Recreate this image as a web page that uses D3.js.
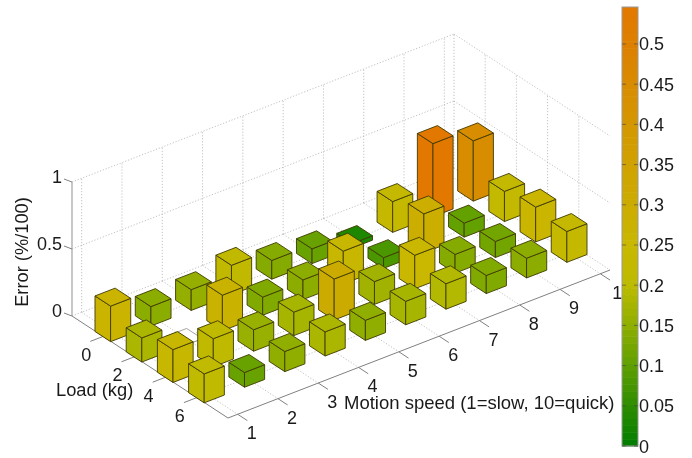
<!DOCTYPE html>
<html><head><meta charset="utf-8">
<script src="https://cdn.jsdelivr.net/npm/d3@7/dist/d3.min.js"></script>
<style>html,body{margin:0;padding:0;background:#fff}svg{display:block;filter:blur(0.5px)}text{font-family:"Liberation Sans",Arial,sans-serif;fill:#1a1a1a}</style>
</head><body><svg id="c" width="692" height="458"></svg>
<script>
const speeds=[1,2,3,4,5,6,7,8,9,10];
const loads=[0,2,4,6];
const errLoad0=[.265,.145,.155,.22,.14,.11,.033,.23,.546,.45];
const errLoad2=[.18,0,.266,.135,.147,.245,.08,.29,.105,.225];
const errLoad4=[.245,.21,.16,.175,.306,.17,.25,.14,.12,.26];
const errLoad6=[.216,.11,.15,.18,.15,.175,.19,.135,.147,.23];
const errors=[errLoad0,errLoad2,errLoad4,errLoad6];
const zTicks=[0,.5,1];
const zTickLabels=["0","0.5","1"];
const cbTicks=[0,.05,.1,.15,.2,.25,.3,.35,.4,.45,.5];
const colorStops=[0,.05,.1,.15,.2,.25,.3,.35,.4,.45,.5,.546];
const colorVals=["#007d00","#2e8c00","#5e9f00","#8fae00","#bcbb00","#c9b700","#ccac00","#d0a200","#d49700","#d88c00","#dd8000","#e27800"];
const xLabel="Motion speed (1=slow, 10=quick)",yLabel="Load (kg)",zLabel="Error (%/100)";

const color=d3.scaleLinear().domain(colorStops).range(colorVals).clamp(true);
const sMin=.76,sMax=10.24,lMin=-2,lMax=8;
const sx=d3.scaleLinear().domain([sMin,sMax]).range([0,382]);
const sy=d3.scaleLinear().domain([sMin,sMax]).range([0,-148]);
const lx=d3.scaleLinear().domain([lMax,lMin]).range([0,-156]);
const ly=d3.scaleLinear().domain([lMax,lMin]).range([0,-102]);
const zy=d3.scaleLinear().domain([0,1]).range([0,-134]);
const O=[228,418];
const P=(s,l,z=0)=>[O[0]+sx(s)+lx(l),O[1]+sy(s)+ly(l)+zy(z)];
const svg=d3.select("#c");
const draw=(g,a,b,st)=>{g.append("line").attr("x1",a[0]).attr("y1",a[1]).attr("x2",b[0]).attr("y2",b[1]).attr("stroke",st.c).attr("stroke-width",st.w).attr("stroke-dasharray",st.d||null);};
const gridSt={c:"#a8a8a8",w:.7,d:"1.2 1.8"},axSt={c:"#808080",w:1};

const grid=svg.append("g");
speeds.forEach(s=>{
  draw(grid,P(s,lMin,0),P(s,lMax,0),gridSt);
  draw(grid,P(s,lMin,0),P(s,lMin,1),gridSt);
});
loads.forEach(l=>{
  draw(grid,P(sMin,l,0),P(sMax,l,0),gridSt);
  draw(grid,P(sMax,l,0),P(sMax,l,1),gridSt);
});
zTicks.forEach(z=>{
  draw(grid,P(sMin,lMin,z),P(sMax,lMin,z),gridSt);
  draw(grid,P(sMax,lMin,z),P(sMax,lMax,z),gridSt);
});
draw(grid,P(sMax,lMin,0),P(sMax,lMin,1),gridSt);

const ax=svg.append("g");
draw(ax,P(sMin,lMin,0),P(sMin,lMin,1),{c:"#aaa",w:1.3});
draw(ax,P(sMin,lMin,0),P(sMin,lMax,0),axSt);
draw(ax,P(sMin,lMax,0),P(sMax,lMax,0),axSt);
speeds.forEach(s=>{const a=P(s,lMax),b=P(s,lMax+.62);draw(ax,a,b,axSt);
  ax.append("text").attr("x",a[0]+(s===10?22:14)).attr("y",a[1]+25).attr("text-anchor","middle").attr("font-size",18).text(s);});
loads.forEach(l=>{const a=P(sMin,l),b=P(sMin-.32,l);draw(ax,a,b,axSt);
  ax.append("text").attr("x",a[0]-17).attr("y",a[1]+24.5).attr("text-anchor","middle").attr("font-size",18).text(l);});
zTicks.forEach((z,i)=>{const a=P(sMin,lMin,z);
  draw(ax,a,[a[0]-8,a[1]-3],axSt);
  ax.append("text").attr("x",a[0]-10).attr("y",a[1]+1).attr("text-anchor","end").attr("font-size",18).text(zTickLabels[i]);});

const bars=svg.append("g");
const hw=.25,hl=.5;
loads.forEach((l,li)=>{
  for(let si=speeds.length-1;si>=0;si--){
    const s=speeds[si],v=errors[li][si];
    const g=bars.append("g").attr("stroke",v===0?"#999":"#3f3a00").attr("stroke-width",.9).attr("stroke-linejoin","round");
    const fill=v===0?"#fff":color(v);
    const L=z=>P(s-hw,l-hl,z),F=z=>P(s-hw,l+hl,z),R=z=>P(s+hw,l+hl,z),B=z=>P(s+hw,l-hl,z);
    const poly=pts=>g.append("polygon").attr("points",pts.map(p=>p.join(",")).join(" ")).attr("fill",fill);
    poly([L(0),F(0),F(v),L(v)]);
    poly([F(0),R(0),R(v),F(v)]);
    poly([L(v),F(v),R(v),B(v)]);
  }
});

svg.append("text").attr("transform","translate(28,252) rotate(-90)").attr("text-anchor","middle").attr("font-size",18.3).text(zLabel);
svg.append("text").attr("x",56).attr("y",396).attr("font-size",18.3).text(yLabel);
svg.append("text").attr("x",344).attr("y",409).attr("font-size",18.5).text(xLabel);

const cbScale=d3.scaleLinear().domain([0,.546]).range([446,7]);
const cb=svg.append("g");
d3.range(64).forEach(i=>{const a=i/64*.546,b=(i+1)/64*.546;
  cb.append("rect").attr("x",622).attr("width",16).attr("y",cbScale(b)).attr("height",cbScale(a)-cbScale(b)+.5).attr("fill",color((a+b)/2));});
cb.append("rect").attr("x",622).attr("y",7).attr("width",16).attr("height",439).attr("fill","none").attr("stroke","#999").attr("stroke-width",1);
cbTicks.forEach(t=>{const y=cbScale(t);
  cb.append("line").attr("x1",622).attr("x2",626).attr("y1",y).attr("y2",y).attr("stroke","#444").attr("stroke-opacity",.6);
  cb.append("line").attr("x1",634).attr("x2",638).attr("y1",y).attr("y2",y).attr("stroke","#444").attr("stroke-opacity",.6);
  cb.append("text").attr("x",639).attr("y",y+6.5).attr("font-size",18).text(String(t));});
</script></body></html>
